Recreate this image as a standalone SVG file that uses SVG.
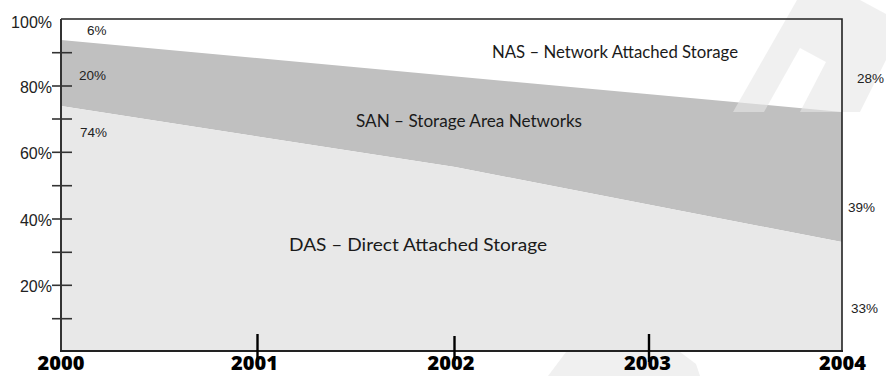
<svg xmlns="http://www.w3.org/2000/svg" width="886" height="376" viewBox="0 0 886 376">
<style>
.pct{font-family:"Liberation Sans",Arial,sans-serif;font-size:13.5px;fill:#222}
.ax{font-family:"Liberation Sans",Arial,sans-serif;font-size:16px;fill:#222;text-anchor:end}
.big{font-family:Lato,"Open Sans",sans-serif;font-size:18px;fill:#1a1a1a}
.yr{font-family:"Open Sans","DejaVu Sans",sans-serif;font-size:20px;font-weight:800;fill:#000;text-anchor:middle}
.tick{stroke:#333;stroke-width:1.6}
.ytick{stroke:#000;stroke-width:2.4}
.wm{fill:#e6e6e6;opacity:0.6}
</style>
<rect width="886" height="376" fill="#fff"/>
<g id="areas">
<polygon id="san" points="61,40 842,112 842,242 455,167 61,106" fill="#c0c0c0"/>
<polygon id="das" points="61,106 455,167 842,242 842,351 61,351" fill="#e8e8e8"/>
</g>
<g id="watermark">
<polygon class="wm" points="797,0 860,0 886,14 886,60 860,112 800,112 826,62 800,48 764,112 733,112"/>
<polygon class="wm" points="548,376 566,352 680,352 696,364 700,376"/>
</g>
<g id="frame" fill="none">
<polyline points="61,19 842,19 842,351" stroke="#222" stroke-width="1.6"/>
<line x1="61" y1="19" x2="61" y2="352" stroke="#333" stroke-width="2"/>
<line x1="60" y1="351" x2="843" y2="351" stroke="#222" stroke-width="2"/>
</g>
<g id="yticks">
<line class="tick" x1="52" y1="52.7" x2="72" y2="52.7"/>
<line class="tick" x1="52" y1="86" x2="72" y2="86"/>
<line class="tick" x1="52" y1="119" x2="72" y2="119"/>
<line class="tick" x1="52" y1="152.3" x2="72" y2="152.3"/>
<line class="tick" x1="52" y1="185.7" x2="72" y2="185.7"/>
<line class="tick" x1="52" y1="219" x2="72" y2="219"/>
<line class="tick" x1="52" y1="252.3" x2="72" y2="252.3"/>
<line class="tick" x1="52" y1="285.3" x2="72" y2="285.3"/>
<line class="tick" x1="52" y1="318.7" x2="72" y2="318.7"/>
</g>
<g id="xticks">
<line class="ytick" x1="257.5" y1="334" x2="257.5" y2="361"/>
<line class="ytick" x1="454.5" y1="336" x2="454.5" y2="361"/>
<line class="ytick" x1="649" y1="334" x2="649" y2="362"/>
</g>
<g id="ylabels">
<text class="ax" x="52" y="28">100%</text>
<text class="ax" x="52" y="93">80%</text>
<text class="ax" x="52" y="159">60%</text>
<text class="ax" x="52" y="226">40%</text>
<text class="ax" x="52" y="292">20%</text>
</g>
<g id="xlabels">
<text class="yr" x="61" y="370">2000</text>
<text class="yr" x="254.5" y="370">2001</text>
<text class="yr" x="451" y="370">2002</text>
<text class="yr" x="647.5" y="370">2003</text>
<text class="yr" x="842.5" y="370">2004</text>
</g>
<g id="values">
<text class="pct" x="87" y="35">6%</text>
<text class="pct" x="79" y="80">20%</text>
<text class="pct" x="80" y="137">74%</text>
<text class="pct" x="857" y="83">28%</text>
<text class="pct" x="848" y="212">39%</text>
<text class="pct" x="851" y="313">33%</text>
</g>
<g id="nas"><text class="big" x="492" y="58" textLength="246" lengthAdjust="spacingAndGlyphs">NAS – Network Attached Storage</text></g>
<g id="san-label"><text class="big" x="356" y="127" textLength="226" lengthAdjust="spacingAndGlyphs">SAN – Storage Area Networks</text></g>
<g id="das-label"><text class="big" x="289" y="251" textLength="258" lengthAdjust="spacingAndGlyphs">DAS – Direct Attached Storage</text></g>
</svg>
